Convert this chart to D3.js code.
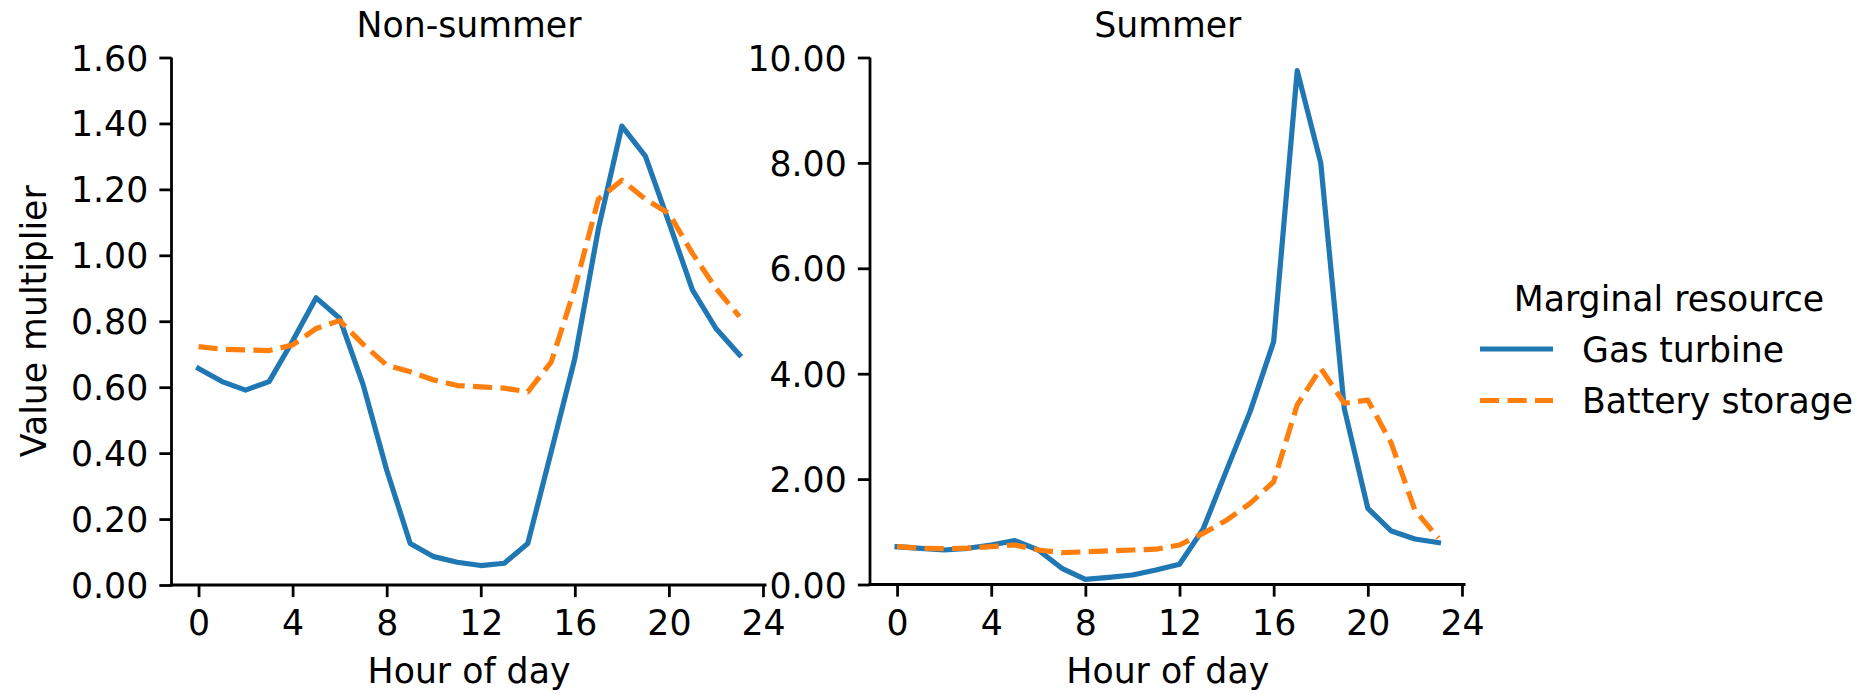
<!DOCTYPE html>
<html>
<head>
<meta charset="utf-8">
<script src="https://cdn.jsdelivr.net/npm/d3@7"></script>
<style>
  html, body { margin: 0; padding: 0; background: #fff; }
  svg { display: block; font-family: "DejaVu Sans", sans-serif; }
</style>
</head>
<body>
<svg id="chart" width="1865" height="694"></svg>
<script>
// ---- data ----
const hours = d3.range(0, 24);
const gasNonSummer = [0.657, 0.617, 0.591, 0.617, 0.74, 0.871, 0.809, 0.607, 0.349, 0.126, 0.086, 0.069,
                      0.059, 0.066, 0.126, 0.405, 0.687, 1.08, 1.392, 1.301, 1.10, 0.895, 0.778, 0.698];
const batNonSummer = [0.723, 0.715, 0.713, 0.711, 0.728, 0.778, 0.802, 0.73, 0.667, 0.647, 0.622, 0.605,
                      0.601, 0.597, 0.586, 0.677, 0.90, 1.17, 1.228, 1.17, 1.127, 1.006, 0.90, 0.814];
const gasSummer = [0.717, 0.687, 0.655, 0.687, 0.75, 0.832, 0.655, 0.307, 0.098, 0.136, 0.18, 0.275,
                   0.383, 1.047, 2.17, 3.28, 4.61, 9.75, 8.0, 3.34, 1.446, 1.015, 0.863, 0.794];
const batSummer = [0.72, 0.69, 0.68, 0.69, 0.72, 0.75, 0.655, 0.604, 0.62, 0.64, 0.655, 0.67,
                   0.75, 0.97, 1.22, 1.54, 1.95, 3.41, 4.10, 3.44, 3.50, 2.68, 1.41, 0.88];
const xTicks = [0, 4, 8, 12, 16, 20, 24];
const yTicksNonSummer = [0, 0.2, 0.4, 0.6, 0.8, 1.0, 1.2, 1.4, 1.6];
const yTicksSummer = [0, 2, 4, 6, 8, 10];
const panelTitles = ["Non-summer", "Summer"];
const seriesNames = ["Gas turbine", "Battery storage"];
const legendTitle = "Marginal resource";
const xLabel = "Hour of day";
const yLabel = "Value multiplier";

// ---- styling ----
const FS = 34.7;
const COLORS = ["#1f77b4", "#ff7f0e"];
const LW = 5.2;
const DASH = "19.2,8.3";
const SPINE = 2.78;
const TICKLEN = 12.15;
const TICKPAD = 12.15;

const svg = d3.select("#chart");

const panels = [
  { title: panelTitles[0], x0: 171.5, x1: 766.5, yDomain: [0, 1.6], yBottom: 585, yTicks: yTicksNonSummer,
    series: [gasNonSummer, batNonSummer], ylab: true },
  { title: panelTitles[1], x0: 870, x1: 1465.5, yDomain: [0, 10], yBottom: 584.5, yTicks: yTicksSummer,
    series: [gasSummer, batSummer], ylab: false }
];
const yTop = 57.5;

panels.forEach(p => {
  const x = d3.scaleLinear().domain([-1.15, 24.15]).range([p.x0, p.x1]);
  const y = d3.scaleLinear().domain(p.yDomain).range([p.yBottom, yTop]);
  const g = svg.append("g");

  // lines
  p.series.forEach((vals, i) => {
    const line = d3.line().x((d, j) => x(hours[j])).y(d => y(d));
    g.append("path")
      .datum(vals)
      .attr("d", line)
      .attr("fill", "none")
      .attr("stroke", COLORS[i])
      .attr("stroke-width", LW)
      .attr("stroke-linejoin", "round")
      .attr("stroke-linecap", i === 0 ? "square" : "butt")
      .attr("stroke-dasharray", i === 1 ? DASH : null);
  });

  // x axis
  const xAxis = d3.axisBottom(x).tickValues(xTicks).tickSize(TICKLEN).tickPadding(TICKPAD).tickSizeOuter(0)
    .tickFormat(d3.format("d"));
  const gx = g.append("g").attr("transform", `translate(0,${p.yBottom})`).call(xAxis);
  gx.select(".domain").attr("stroke-width", SPINE).attr("d", `M${p.x0 - SPINE/2},0H${p.x1}`);
  gx.selectAll(".tick line").attr("stroke-width", SPINE);
  gx.selectAll(".tick text").attr("font-size", FS).attr("font-family", "DejaVu Sans").attr("fill", "#000")
    .attr("dy", null).attr("y", 50);

  // y axis
  const yAxis = d3.axisLeft(y).tickValues(p.yTicks).tickSize(TICKLEN).tickPadding(TICKPAD).tickSizeOuter(0)
    .tickFormat(d3.format(".2f"));
  const gy = g.append("g").attr("transform", `translate(${p.x0},0)`).call(yAxis);
  gy.select(".domain").attr("stroke-width", SPINE).attr("d", `M0,${yTop}V${p.yBottom + SPINE/2}`);
  gy.selectAll(".tick line").attr("stroke-width", SPINE);
  gy.selectAll(".tick text").attr("font-size", FS).attr("font-family", "DejaVu Sans").attr("fill", "#000")
    .attr("dy", "0.36em").attr("x", -(TICKLEN + TICKPAD) + 1);

  // title
  g.append("text")
    .attr("x", (p.x0 + p.x1) / 2).attr("y", 36.7)
    .attr("text-anchor", "middle").attr("font-size", FS).text(p.title);

  // x label
  g.append("text")
    .attr("x", (p.x0 + p.x1) / 2).attr("y", 683)
    .attr("text-anchor", "middle").attr("font-size", FS).text(xLabel);

  if (p.ylab) {
    g.append("text")
      .attr("transform", `translate(46,${(yTop + p.yBottom) / 2}) rotate(-90)`)
      .attr("text-anchor", "middle").attr("font-size", FS).text(yLabel);
  }
});

// legend
const lg = svg.append("g");
lg.append("text").attr("x", 1669).attr("y", 311).attr("text-anchor", "middle")
  .attr("font-size", FS).text(legendTitle);
const rowY = [349, 400.5];
seriesNames.forEach((name, i) => {
  lg.append("line")
    .attr("x1", 1480).attr("x2", 1553).attr("y1", rowY[i]).attr("y2", rowY[i])
    .attr("stroke", COLORS[i]).attr("stroke-width", LW)
    .attr("stroke-dasharray", i === 1 ? DASH : null);
  lg.append("text").attr("x", 1582).attr("y", rowY[i] + 12.5)
    .attr("font-size", FS).text(name);
});
</script>
</body>
</html>
